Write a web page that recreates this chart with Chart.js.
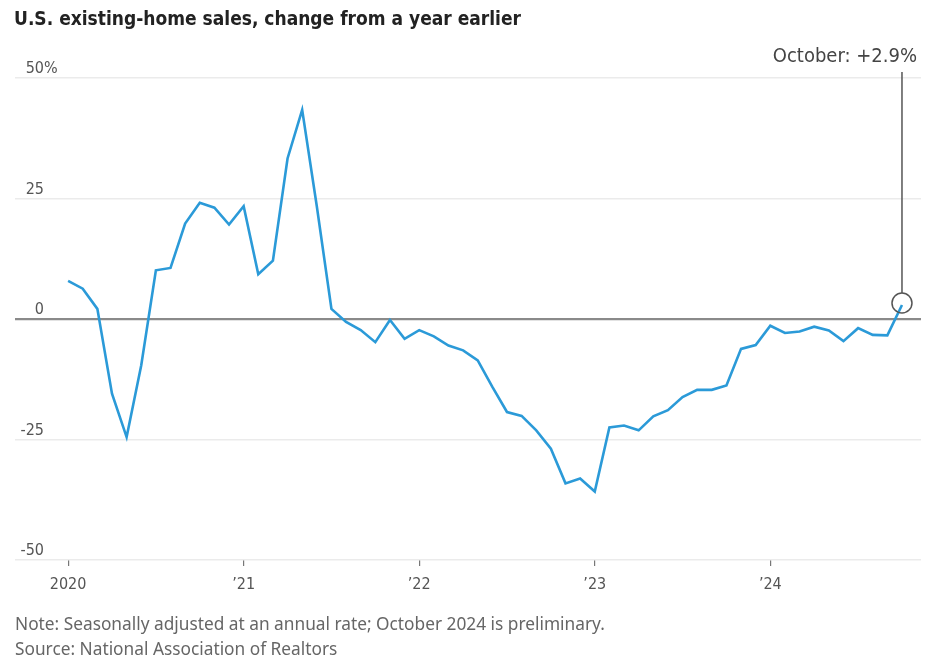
<!DOCTYPE html>
<html>
<head>
<meta charset="utf-8">
<script src="https://cdn.jsdelivr.net/npm/chart.js@4.4.0/dist/chart.umd.min.js"></script>
<style>
  html, body { margin: 0; padding: 0; background: #fff; }
  #wrap { position: relative; width: 936px; height: 668px; overflow: hidden; }
  #chart { position: absolute; left: 0; top: 0; }
  .title {
    position: absolute; left: 14px; top: 7px;
    font: bold 19px "Liberation Sans Narrow", "DejaVu Sans Condensed", sans-serif;
    color: #222;
  }
  .note {
    position: absolute; left: 15px;
    font: 17.3px "Noto Sans", sans-serif;
    color: #666;
  }
</style>
</head>
<body>
<div id="wrap">
  <canvas id="chart" width="936" height="668"></canvas>
  <div class="title">U.S. existing-home sales, change from a year earlier</div>
  <div class="note" style="top:612px">Note: Seasonally adjusted at an annual rate; October 2024 is preliminary.</div>
  <div class="note" style="top:637px">Source: National Association of Realtors</div>
</div>
<script>
// Monthly, Jan 2020 - Oct 2024, % change from a year earlier
const months = [];
for (let y = 2020; y <= 2024; y++) {
  for (let m = 1; m <= 12; m++) {
    if (y === 2024 && m > 10) break;
    months.push(y + '-' + String(m).padStart(2, '0'));
  }
}

const salesChange = [
  7.9, 6.3, 2.1, -15.5, -24.5, -9.6, 10.1, 10.6, 19.8, 24.1, 23.1, 19.6,
  23.4, 9.3, 12.1, 33.3, 43.4, 23.4, 2.1, -0.6, -2.3, -4.8, -0.2, -4.1,
  -2.3, -3.6, -5.5, -6.5, -8.6, -14.1, -19.3, -20.1, -23.1, -26.9, -34.1, -33.1,
  -35.8, -22.5, -22.1, -23.1, -20.2, -18.9, -16.2, -14.7, -14.7, -13.8, -6.2, -5.4,
  -1.4, -2.9, -2.6, -1.6, -2.4, -4.6, -1.9, -3.3, -3.4, 2.9
];

const xTickValues = [0, 12, 24, 36, 48];
const xTickLabels = ['2020', '\u201921', '\u201922', '\u201923', '\u201924'];
const yTickValues = [-50, -25, 0, 25, 50];

const narrow = '"Liberation Sans Narrow", "DejaVu Sans Condensed", sans-serif';

// y labels sit above their grid lines, digits right-aligned
const yLabels = {
  id: 'yLabels',
  afterDraw(chart) {
    const ys = chart.scales.y;
    const ctx = chart.ctx;
    ctx.save();
    ctx.font = '16px ' + narrow;
    ctx.fillStyle = '#555';
    ctx.textBaseline = 'middle';
    ys.ticks.forEach(t => {
      const py = ys.getPixelForValue(t.value) - 9;
      ctx.textAlign = 'right';
      ctx.fillText(String(t.value).replace('-', '\u2011'), 44, py);
      if (t.value === ys.max) {
        ctx.textAlign = 'left';
        ctx.fillText('%', 44, py);
      }
    });
    ctx.restore();
  }
};

// callout for the latest month
const latestNote = {
  id: 'latestNote',
  afterDatasetsDraw(chart) {
    const meta = chart.getDatasetMeta(0);
    const pt = meta.data[meta.data.length - 1];
    const ctx = chart.ctx;
    const r = 10;
    ctx.save();
    ctx.strokeStyle = '#555';
    ctx.lineWidth = 1.5;
    ctx.beginPath();
    ctx.arc(pt.x, pt.y - 2, r, 0, Math.PI * 2);
    ctx.stroke();
    ctx.beginPath();
    ctx.moveTo(pt.x, pt.y - 2 - r);
    ctx.lineTo(pt.x, 72);
    ctx.stroke();
    ctx.font = '20px ' + narrow;
    ctx.fillStyle = '#444';
    ctx.textAlign = 'right';
    ctx.textBaseline = 'middle';
    ctx.fillText('October: +2.9%', chart.chartArea.right - 4, 57);
    ctx.restore();
  }
};

new Chart(document.getElementById('chart'), {
  type: 'line',
  data: {
    datasets: [{
      data: salesChange.map((v, i) => ({ x: i, y: v })),
      borderColor: '#2b9ad8',
      borderWidth: 2.6,
      pointRadius: 0,
      tension: 0,
      borderJoinStyle: 'miter'
    }]
  },
  options: {
    responsive: false,
    animation: false,
    layout: { padding: { left: 15, right: 15, top: 78, bottom: 78 } },
    plugins: { legend: { display: false }, tooltip: { enabled: false } },
    scales: {
      x: {
        type: 'linear',
        min: -3.63,
        max: 58.3,
        afterBuildTicks: s => { s.ticks = xTickValues.map(v => ({ value: v })); },
        afterFit: s => { s.height = 30; },
        border: { display: false },
        grid: { drawOnChartArea: false, drawTicks: true, tickLength: 6, color: '#777', lineWidth: 1.2 },
        ticks: {
          padding: 9,
          color: '#555',
          font: { family: narrow, size: 16 },
          maxRotation: 0,
          callback: v => xTickLabels[xTickValues.indexOf(v)]
        }
      },
      y: {
        min: -50,
        max: 50,
        afterBuildTicks: s => { s.ticks = yTickValues.map(v => ({ value: v })); },
        afterFit: s => { s.width = 0; },
        border: { display: false },
        grid: {
          drawTicks: false,
          color: c => c.tick && c.tick.value === 0 ? '#8a8a8a' : '#ebebeb',
          lineWidth: c => c.tick && c.tick.value === 0 ? 2.2 : 1.5
        },
        ticks: { display: false }
      }
    }
  },
  plugins: [yLabels, latestNote]
});
</script>
</body>
</html>
